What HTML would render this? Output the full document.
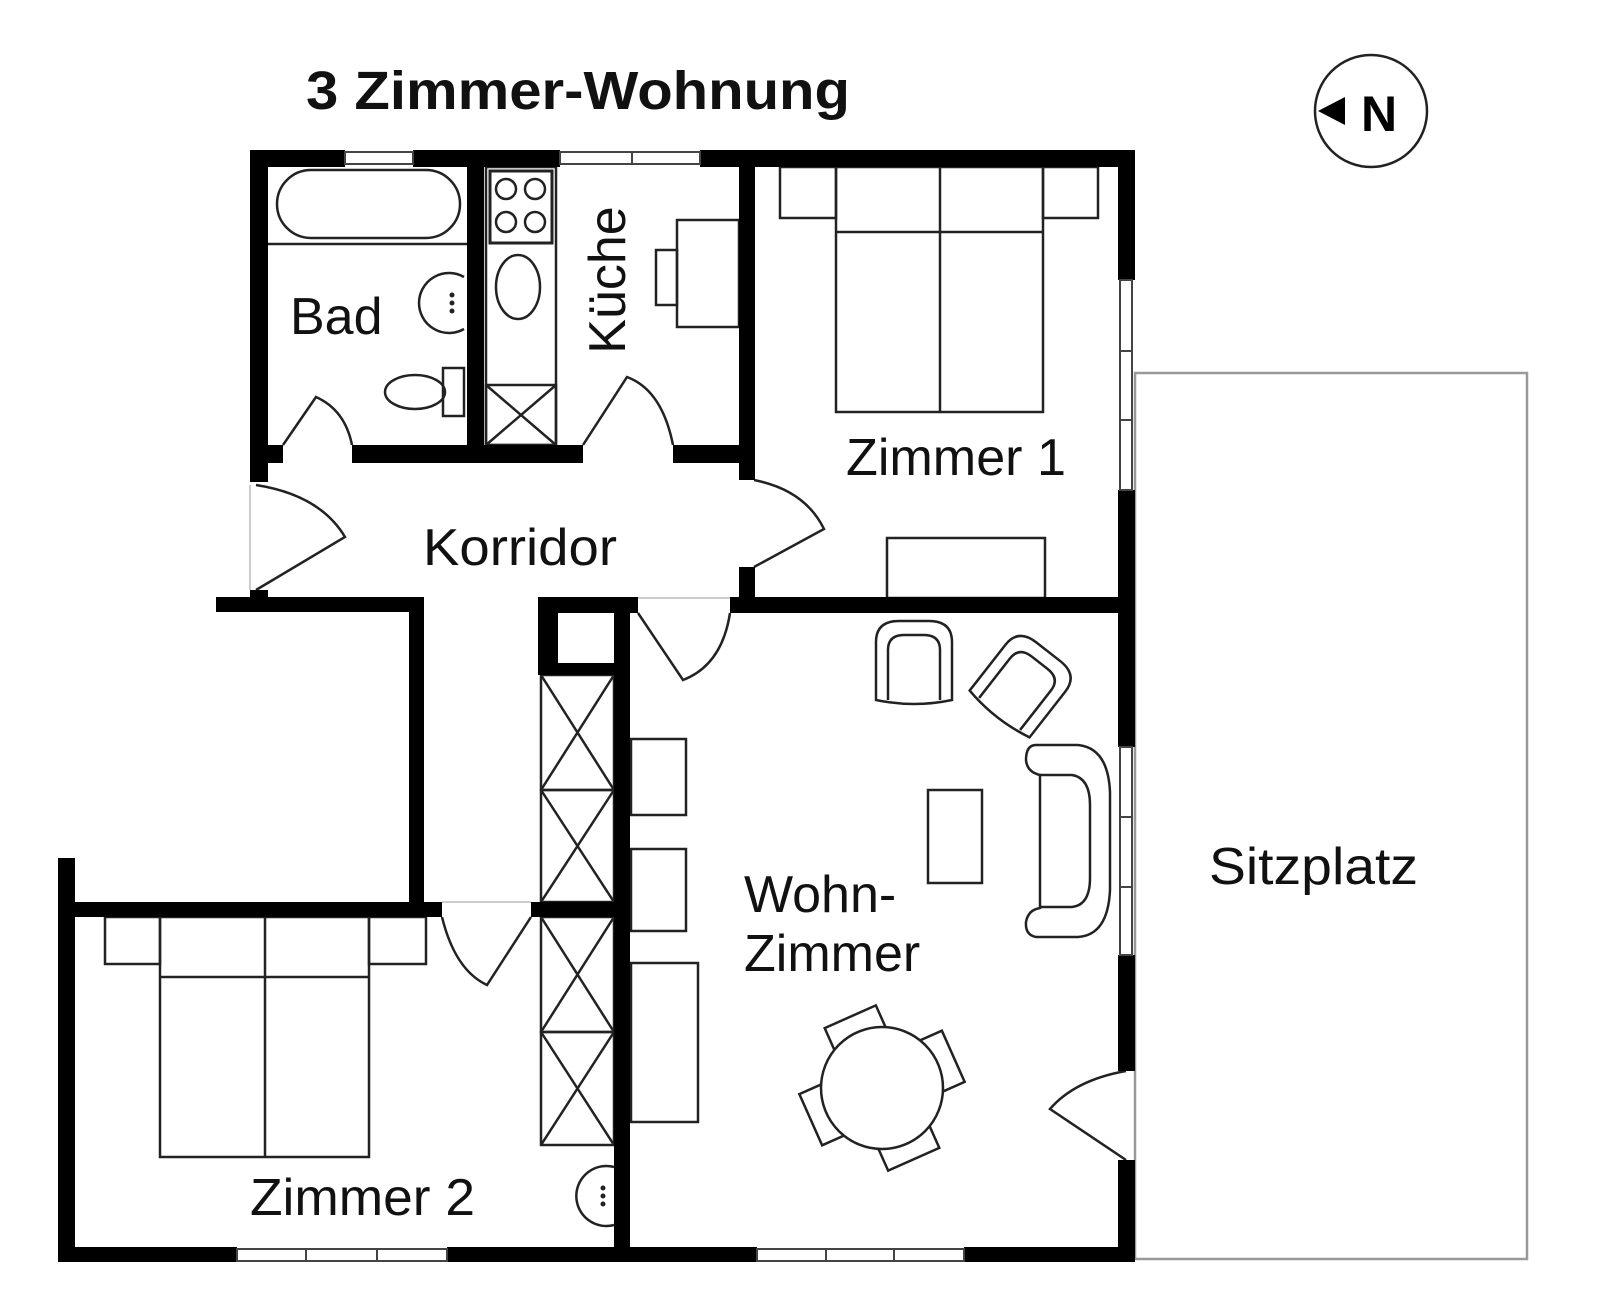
<!DOCTYPE html>
<html><head><meta charset="utf-8"><style>html,body{margin:0;padding:0;background:#fff}svg{display:block}</style></head>
<body>
<svg width="1608" height="1300" viewBox="0 0 1608 1300" xmlns="http://www.w3.org/2000/svg" font-family="Liberation Sans, Arial, sans-serif">
<rect width="1608" height="1300" fill="#fff"/>
<!-- Sitzplatz -->
<rect x="1135" y="373" width="392" height="886" fill="none" stroke="#999" stroke-width="2.5"/>
<!-- furniture (thin lines) -->
<g fill="none" stroke="#222" stroke-width="2.5">
  <!-- bathtub -->
  <rect x="277" y="170" width="183" height="68" rx="34"/>
  <line x1="268" y1="244" x2="467" y2="244"/>
  <!-- bad sink -->
  <path d="M464,277 A30,30 0 1 0 464,329"/>
  <!-- toilet -->
  <ellipse cx="415" cy="392" rx="30" ry="17"/>
  <rect x="443" y="368" width="21" height="48"/>
  <!-- kitchen counter -->
  <rect x="486" y="167" width="70" height="278"/>
  <rect x="490" y="171" width="62" height="72" stroke-width="3"/>
  <ellipse cx="518" cy="287" rx="22" ry="32"/>
  <rect x="486" y="385" width="70" height="60"/>
  <line x1="486" y1="385" x2="556" y2="445"/><line x1="556" y1="385" x2="486" y2="445"/>
  <!-- kitchen table -->
  <rect x="677" y="220" width="62" height="107"/>
  <rect x="656" y="250" width="21" height="55"/>
  <!-- Zimmer1 bed -->
  <rect x="780" y="167" width="56" height="51"/>
  <rect x="1043" y="167" width="55" height="51"/>
  <rect x="836" y="167" width="207" height="245"/>
  <line x1="836" y1="232" x2="1043" y2="232"/><line x1="940" y1="167" x2="940" y2="412"/>
  <rect x="887" y="538" width="158" height="60"/>
  <!-- Zimmer2 bed -->
  <rect x="105" y="917" width="55" height="47"/>
  <rect x="369" y="917" width="57" height="47"/>
  <rect x="160" y="917" width="209" height="240"/>
  <line x1="160" y1="977" x2="369" y2="977"/><line x1="265" y1="917" x2="265" y2="1157"/>
  <!-- Zimmer2 sink -->
  <path d="M614,1167 A30,30 0 1 0 614,1225"/>
  <!-- closets -->
  <rect x="541" y="675" width="73" height="115"/><line x1="541" y1="675" x2="614" y2="790"/><line x1="614" y1="675" x2="541" y2="790"/>
  <rect x="541" y="790" width="73" height="112"/><line x1="541" y1="790" x2="614" y2="902"/><line x1="614" y1="790" x2="541" y2="902"/>
  <rect x="541" y="917" width="73" height="115"/><line x1="541" y1="917" x2="614" y2="1032"/><line x1="614" y1="917" x2="541" y2="1032"/>
  <rect x="541" y="1032" width="73" height="113"/><line x1="541" y1="1032" x2="614" y2="1145"/><line x1="614" y1="1032" x2="541" y2="1145"/>
  <!-- living shelves -->
  <rect x="631" y="739" width="55" height="76"/>
  <rect x="631" y="849" width="55" height="82"/>
  <rect x="631" y="963" width="67" height="159"/>
  <!-- coffee table -->
  <rect x="928" y="790" width="54" height="93"/>
  <!-- sofa -->
  <path d="M1036,745 L1078,745 Q1108,748 1110,792 L1110,890 Q1108,935 1078,937 L1036,937 Q1025,935 1026,922 Q1028,910 1040,908 L1040,775 Q1027,772 1026,760 Q1026,745 1036,745 Z"/>
  <path d="M1040,775 L1072,775 Q1090,778 1090,805 L1090,878 Q1090,905 1072,907 L1040,907"/>
  <!-- armchairs -->
  <g transform="translate(914,662)">
    <path d="M-38,38 L-38,-20 Q-38,-41 -15,-41 L15,-41 Q38,-41 38,-20 L38,38 Q0,46 -38,38 Z"/>
    <path d="M-26,38 L-26,-12 Q-26,-27 -10,-27 L10,-27 Q26,-27 26,-12 L26,38"/>
  </g>
  <g transform="translate(1023,684) rotate(38)">
    <path d="M-38,38 L-38,-20 Q-38,-41 -15,-41 L15,-41 Q38,-41 38,-20 L38,38 Q0,46 -38,38 Z"/>
    <path d="M-26,38 L-26,-12 Q-26,-27 -10,-27 L10,-27 Q26,-27 26,-12 L26,38"/>
  </g>
  <!-- dining -->
  <g transform="rotate(-24 882 1088)">
    <rect x="854" y="1010" width="56" height="30"/>
    <rect x="854" y="1136" width="56" height="30"/>
    <rect x="804" y="1060" width="30" height="56"/>
    <rect x="930" y="1060" width="30" height="56"/>
  </g>
  <circle cx="882" cy="1088" r="61" fill="#fff"/>
  <!-- doors -->
  <path d="M283,445 L316,397 Q345,410 352,445"/>
  <path d="M583,445 L627,377 Q662,390 673,445"/>
  <path d="M256,590 L345,537 Q320,495 256,485"/>
  <path d="M754,480 Q805,490 824,529 L754,567"/>
  <path d="M638,613 L683,680 Q722,665 730,613"/>
  <path d="M442,917 Q455,970 487,985 L531,917"/>
  <path d="M1126,1071 Q1075,1080 1050,1109 L1126,1160"/>
</g>
<!-- burners -->
<g fill="#fff" stroke="#222" stroke-width="2.5">
  <circle cx="506" cy="189" r="10"/><circle cx="535" cy="189" r="10"/>
  <circle cx="506" cy="222" r="10"/><circle cx="535" cy="222" r="10"/>
</g>
<g fill="#222"><circle cx="452" cy="295" r="2.5"/><circle cx="452" cy="303" r="2.5"/><circle cx="452" cy="311" r="2.5"/>
<circle cx="603" cy="1188" r="2.5"/><circle cx="603" cy="1196" r="2.5"/><circle cx="603" cy="1204" r="2.5"/></g>
<!-- door gap thin lines -->
<g stroke="#bbb" stroke-width="1.5"><line x1="250" y1="485" x2="250" y2="590"/><line x1="638" y1="598" x2="730" y2="598"/><line x1="442" y1="902" x2="531" y2="902"/></g>
<!-- walls -->
<g fill="#000">
  <rect x="250" y="150" width="95" height="17"/>
  <rect x="413" y="150" width="147" height="17"/>
  <rect x="700" y="150" width="435" height="17"/>
  <rect x="250" y="150" width="18" height="332"/>
  <rect x="250" y="590" width="18" height="22"/>
  <rect x="467" y="150" width="17" height="313"/>
  <rect x="250" y="445" width="33" height="18"/>
  <rect x="352" y="445" width="231" height="18"/>
  <rect x="673" y="445" width="82" height="18"/>
  <rect x="739" y="150" width="16" height="330"/>
  <rect x="739" y="567" width="16" height="45"/>
  <rect x="1118" y="150" width="17" height="130"/>
  <rect x="1118" y="490" width="17" height="257"/>
  <rect x="1118" y="955" width="17" height="116"/>
  <rect x="1118" y="1160" width="17" height="102"/>
  <rect x="216" y="597" width="208" height="15"/>
  <rect x="538" y="597" width="100" height="16"/>
  <rect x="730" y="597" width="405" height="16"/>
  <rect x="409" y="597" width="15" height="320"/>
  <rect x="538" y="597" width="20" height="78"/>
  <rect x="538" y="663" width="92" height="12"/>
  <rect x="614" y="597" width="16" height="665"/>
  <rect x="66" y="902" width="376" height="15"/>
  <rect x="531" y="902" width="99" height="15"/>
  <rect x="58" y="858" width="17" height="404"/>
  <rect x="58" y="1247" width="179" height="15"/>
  <rect x="447" y="1247" width="310" height="15"/>
  <rect x="964" y="1247" width="171" height="15"/>
</g>
<!-- windows -->
<g fill="#fff" stroke="#444" stroke-width="2">
  <rect x="345" y="152" width="68" height="12"/>
  <rect x="560" y="152" width="140" height="12"/><line x1="632" y1="152" x2="632" y2="164"/>
  <rect x="1120" y="280" width="12" height="210"/><line x1="1120" y1="351" x2="1132" y2="351"/><line x1="1120" y1="420" x2="1132" y2="420"/>
  <rect x="1120" y="747" width="12" height="208"/><line x1="1120" y1="817" x2="1132" y2="817"/><line x1="1120" y1="887" x2="1132" y2="887"/>
  <rect x="237" y="1249" width="210" height="12"/><line x1="306" y1="1249" x2="306" y2="1261"/><line x1="377" y1="1249" x2="377" y2="1261"/>
  <rect x="757" y="1249" width="207" height="12"/><line x1="826" y1="1249" x2="826" y2="1261"/><line x1="894" y1="1249" x2="894" y2="1261"/>
</g>
<!-- text -->
<g fill="#111" font-size="52">
  <text x="306" y="109" font-weight="bold" font-size="54" textLength="544" lengthAdjust="spacingAndGlyphs">3 Zimmer-Wohnung</text>
  <text x="290" y="334">Bad</text>
  <text transform="translate(625,280) rotate(-90)" text-anchor="middle">Küche</text>
  <text x="423" y="565" textLength="194" lengthAdjust="spacingAndGlyphs">Korridor</text>
  <text x="846" y="475" textLength="220" lengthAdjust="spacingAndGlyphs">Zimmer 1</text>
  <text x="250" y="1215" textLength="225" lengthAdjust="spacingAndGlyphs">Zimmer 2</text>
  <text x="744" y="912">Wohn-</text>
  <text x="744" y="971">Zimmer</text>
  <text x="1209" y="884" textLength="209" lengthAdjust="spacingAndGlyphs">Sitzplatz</text>
</g>
<!-- compass -->
<circle cx="1371" cy="111" r="56" fill="none" stroke="#222" stroke-width="2.5"/>
<polygon points="1318,111 1345,97 1345,125" fill="#000"/>
<text x="1361" y="131" font-size="50" font-weight="bold" fill="#000">N</text>
</svg>
</body></html>
